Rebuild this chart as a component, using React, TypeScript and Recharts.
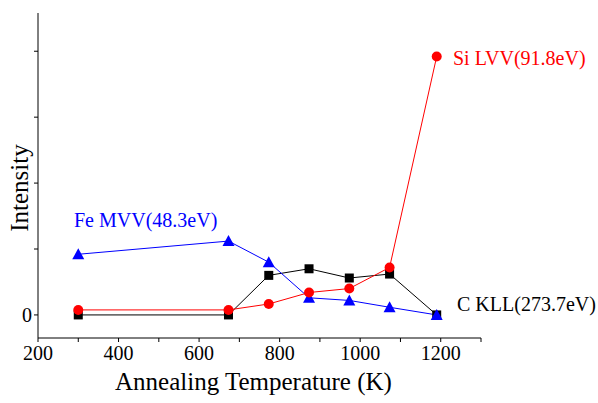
import React from "react"
import { LineChart, Line, XAxis, YAxis } from "recharts"

const temps = [300, 673, 773, 873, 973, 1073, 1190]
const cKll = [0, 0, 0.3, 0.35, 0.28, 0.31, 0]
const siLvv = [0.038, 0.038, 0.083, 0.17, 0.2, 0.36, 1.96]
const feMvv = [0.46, 0.56, 0.4, 0.13, 0.11, 0.058, 0]

const xTicks = [200, 300, 400, 500, 600, 700, 800, 900, 1000, 1100, 1200, 1300]
const xLabels = [200, 400, 600, 800, 1000, 1200]
const yTicks = [0, 0.5, 1, 1.5, 2]

const data = temps.map((t, i) => ({ t, c: cKll[i], si: siLvv[i], fe: feMvv[i] }))

const font = "'Liberation Serif', 'Times New Roman', serif"

const Square = (props: any) => {
  const { cx, cy } = props
  if (cx == null || cy == null) return null
  return <rect x={cx - 4.5} y={cy - 4.5} width={9} height={9} fill="#000" />
}

const Dot = (props: any) => {
  const { cx, cy } = props
  if (cx == null || cy == null) return null
  return <circle cx={cx} cy={cy} r={5} fill="#ff0000" />
}

const Tri = (props: any) => {
  const { cx, cy } = props
  if (cx == null || cy == null) return null
  return <polygon points={`${cx},${cy - 6} ${cx - 6},${cy + 5} ${cx + 6},${cy + 5}`} fill="#0000ff" />
}

export default function App() {
  return (
    <div style={{ position: "fixed", left: 0, top: 0, width: 598, height: 403, background: "#fff", fontFamily: font }}>
      <LineChart width={598} height={403} data={data} margin={{ top: 13, right: 117, left: 0, bottom: 0 }}>
        <XAxis
          dataKey="t"
          type="number"
          domain={[200, 1300]}
          ticks={xTicks}
          interval={0}
          tickFormatter={(v) => (xLabels.includes(v) ? String(v) : "")}
          height={65}
          stroke="#000"
          tickSize={4}
          tickMargin={4}
          tick={{ fill: "#000", fontSize: 20, fontFamily: font }}
          allowDataOverflow
        />
        <YAxis
          type="number"
          domain={[-0.175, 2.29]}
          ticks={yTicks}
          interval={0}
          tickFormatter={(v) => (v === 0 ? "0" : "")}
          width={38}
          stroke="#000"
          tickSize={4}
          tick={{ fill: "#000", fontSize: 20, fontFamily: font }}
          allowDataOverflow
        />
        <Line dataKey="c" stroke="#000" strokeWidth={1} dot={<Square />} isAnimationActive={false} />
        <Line dataKey="fe" stroke="#0000ff" strokeWidth={1} dot={<Tri />} isAnimationActive={false} />
        <Line dataKey="si" stroke="#ff0000" strokeWidth={1} dot={<Dot />} isAnimationActive={false} />
      </LineChart>
      <div style={{ position: "absolute", left: 453, top: 47, fontSize: 20, color: "#ff0000", whiteSpace: "nowrap" }}>Si LVV(91.8eV)</div>
      <div style={{ position: "absolute", left: 74, top: 209, fontSize: 20, color: "#0000ff", whiteSpace: "nowrap" }}>Fe MVV(48.3eV)</div>
      <div style={{ position: "absolute", left: 457, top: 293, fontSize: 20, color: "#000", whiteSpace: "nowrap" }}>C KLL(273.7eV)</div>
      <div style={{ position: "absolute", left: 115, top: 368, fontSize: 25, color: "#000", whiteSpace: "nowrap" }}>Annealing Temperature (K)</div>
      <div
        style={{
          position: "absolute",
          left: 20,
          top: 188,
          fontSize: 25,
          color: "#000",
          whiteSpace: "nowrap",
          transform: "translate(-50%, -50%) rotate(-90deg)",
        }}
      >
        Intensity
      </div>
    </div>
  )
}
